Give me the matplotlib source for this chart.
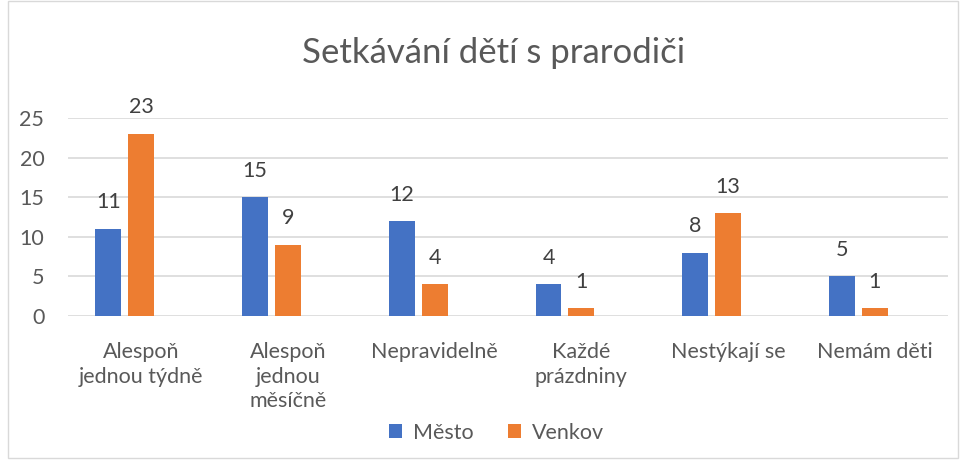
import numpy as np
import matplotlib.pyplot as plt
from matplotlib.patches import Rectangle

plt.rcParams['font.family'] = ['Lato', 'DejaVu Sans']

categories = ["Alespoň\njednou týdně", "Alespoň\njednou\nměsíčně", "Nepravidelně",
              "Každé\nprázdniny", "Nestýkají se", "Nemám děti"]
mesto = [11, 15, 12, 4, 8, 5]
venkov = [23, 9, 4, 1, 13, 1]

BLUE = "#4472C4"
ORANGE = "#ED7D31"
TXT = "#595959"

fig = plt.figure(figsize=(9.64, 4.62), dpi=100)
fig.patches.append(Rectangle((0.008, 0.008), 0.986, 0.99, transform=fig.transFigure,
                             fill=False, edgecolor="#D9D9D9", lw=1))
ax = fig.add_axes([0.0705, 0.316, 0.913, 0.4286])

x = np.arange(len(categories))
w = 0.177
b1 = ax.bar(x - 0.224, mesto, w, color=BLUE, label="Město", zorder=3)
b2 = ax.bar(x, venkov, w, color=ORANGE, label="Venkov", zorder=3)

for bars in (b1, b2):
    for r in bars:
        ax.annotate(f"{int(r.get_height())}", (r.get_x() + r.get_width() / 2, r.get_height()),
                    xytext=(0, 19), textcoords="offset points", ha="center", va="center",
                    fontsize=15.5, color="#404040")

ax.set_xlim(-0.5, 5.5)
ax.set_ylim(0, 25)
ax.set_yticks(range(0, 26, 5))
ax.set_xticks(x)
ax.set_xticklabels(categories, fontsize=15.5, color=TXT, linespacing=1.27, va="top")
ax.tick_params(axis="y", labelsize=15.5, labelcolor=TXT, length=0, pad=17)
ax.tick_params(axis="x", length=0, pad=19)
ax.grid(axis="y", color="#D9D9D9", lw=1.2, zorder=0)
for s in ax.spines.values():
    s.set_visible(False)

fig.text(0.512, 0.885, "Setkávání dětí s prarodiči", ha="center", va="center",
         fontsize=25, color=TXT)

fig.legend(handles=[b1, b2], loc="center", bbox_to_anchor=(0.515, 0.063), ncol=2,
           frameon=False, fontsize=15.5, labelcolor=TXT, handlelength=0.6, handleheight=0.6,
           columnspacing=1.6, handletextpad=0.5)

fig.savefig("out.png", dpi=100)
